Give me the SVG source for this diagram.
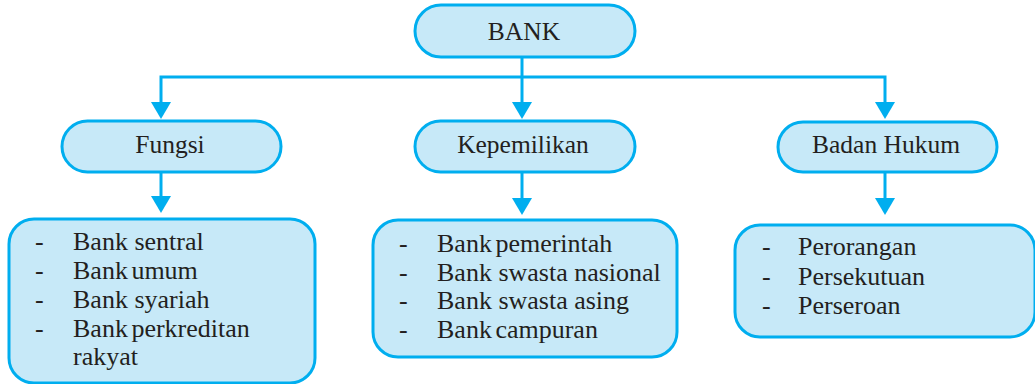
<svg xmlns="http://www.w3.org/2000/svg" width="1035" height="384" viewBox="0 0 1035 384">
<style>
.box{fill:#C7E9F8;stroke:#00AEEF;stroke-width:3}
.ln{fill:none;stroke:#00AEEF;stroke-width:3}
.ah{fill:#00AEEF}
.t{font-family:'Liberation Serif','DejaVu Serif',serif;fill:#231F20}
.h{font-size:25.5px;text-anchor:middle}
.l{font-size:26px}
</style>
<defs>
<path id="arr" d="M-10,0 L10,0 L0,17 Z"/>
</defs>
<g id="connectors">
<path class="ln" d="M522,57 V103"/>
<path class="ln" d="M161,103 V77 H885 V103"/>
<path class="ln" d="M161,172 V197"/>
<path class="ln" d="M522,172 V199"/>
<path class="ln" d="M885,172 V199"/>
<use href="#arr" class="ah" x="161" y="102"/>
<use href="#arr" class="ah" x="522" y="102"/>
<use href="#arr" class="ah" x="885" y="102"/>
<use href="#arr" class="ah" x="161" y="196"/>
<use href="#arr" class="ah" x="522" y="198"/>
<use href="#arr" class="ah" x="885" y="198"/>
</g>
<g id="bank">
<rect class="box" x="415" y="5" width="220" height="52" rx="26"/>
<text class="t h" x="524" y="40">BANK</text>
</g>
<g id="fungsi">
<rect class="box" x="62" y="121" width="219" height="51" rx="25.5"/>
<text class="t h" x="170" y="153">Fungsi</text>
</g>
<g id="kepemilikan">
<rect class="box" x="415" y="121" width="220" height="51" rx="25.5"/>
<text class="t h" x="523" y="153">Kepemilikan</text>
</g>
<g id="badan-hukum">
<rect class="box" x="778" y="122" width="219" height="50" rx="25"/>
<text class="t h" x="886" y="153">Badan Hukum</text>
</g>
<g id="fungsi-list">
<rect class="box" x="9" y="219" width="306" height="164" rx="25"/>
<text class="t l" x="35" y="250">-</text><text class="t l" x="73" y="250">Bank sentral</text>
<text class="t l" x="35" y="279">-</text><text class="t l" x="73" y="279" word-spacing="-3">Bank umum</text>
<text class="t l" x="35" y="308">-</text><text class="t l" x="73" y="308">Bank syariah</text>
<text class="t l" x="35" y="337">-</text><text class="t l" x="73" y="337" word-spacing="-3">Bank perkreditan</text>
<text class="t l" x="73" y="365">rakyat</text>
</g>
<g id="kepemilikan-list">
<rect class="box" x="373" y="220" width="304" height="137" rx="25"/>
<text class="t l" x="399" y="252">-</text><text class="t l" x="437" y="252" word-spacing="-3">Bank pemerintah</text>
<text class="t l" x="399" y="281">-</text><text class="t l" x="437" y="281">Bank swasta nasional</text>
<text class="t l" x="399" y="309">-</text><text class="t l" x="437" y="309">Bank swasta asing</text>
<text class="t l" x="399" y="338">-</text><text class="t l" x="437" y="338" word-spacing="-3">Bank campuran</text>
</g>
<g id="badan-hukum-list">
<rect class="box" x="735" y="225" width="300" height="112" rx="25"/>
<text class="t l" x="762" y="255">-</text><text class="t l" x="798" y="255">Perorangan</text>
<text class="t l" x="762" y="285">-</text><text class="t l" x="798" y="285">Persekutuan</text>
<text class="t l" x="762" y="314">-</text><text class="t l" x="798" y="314">Perseroan</text>
</g>
</svg>
